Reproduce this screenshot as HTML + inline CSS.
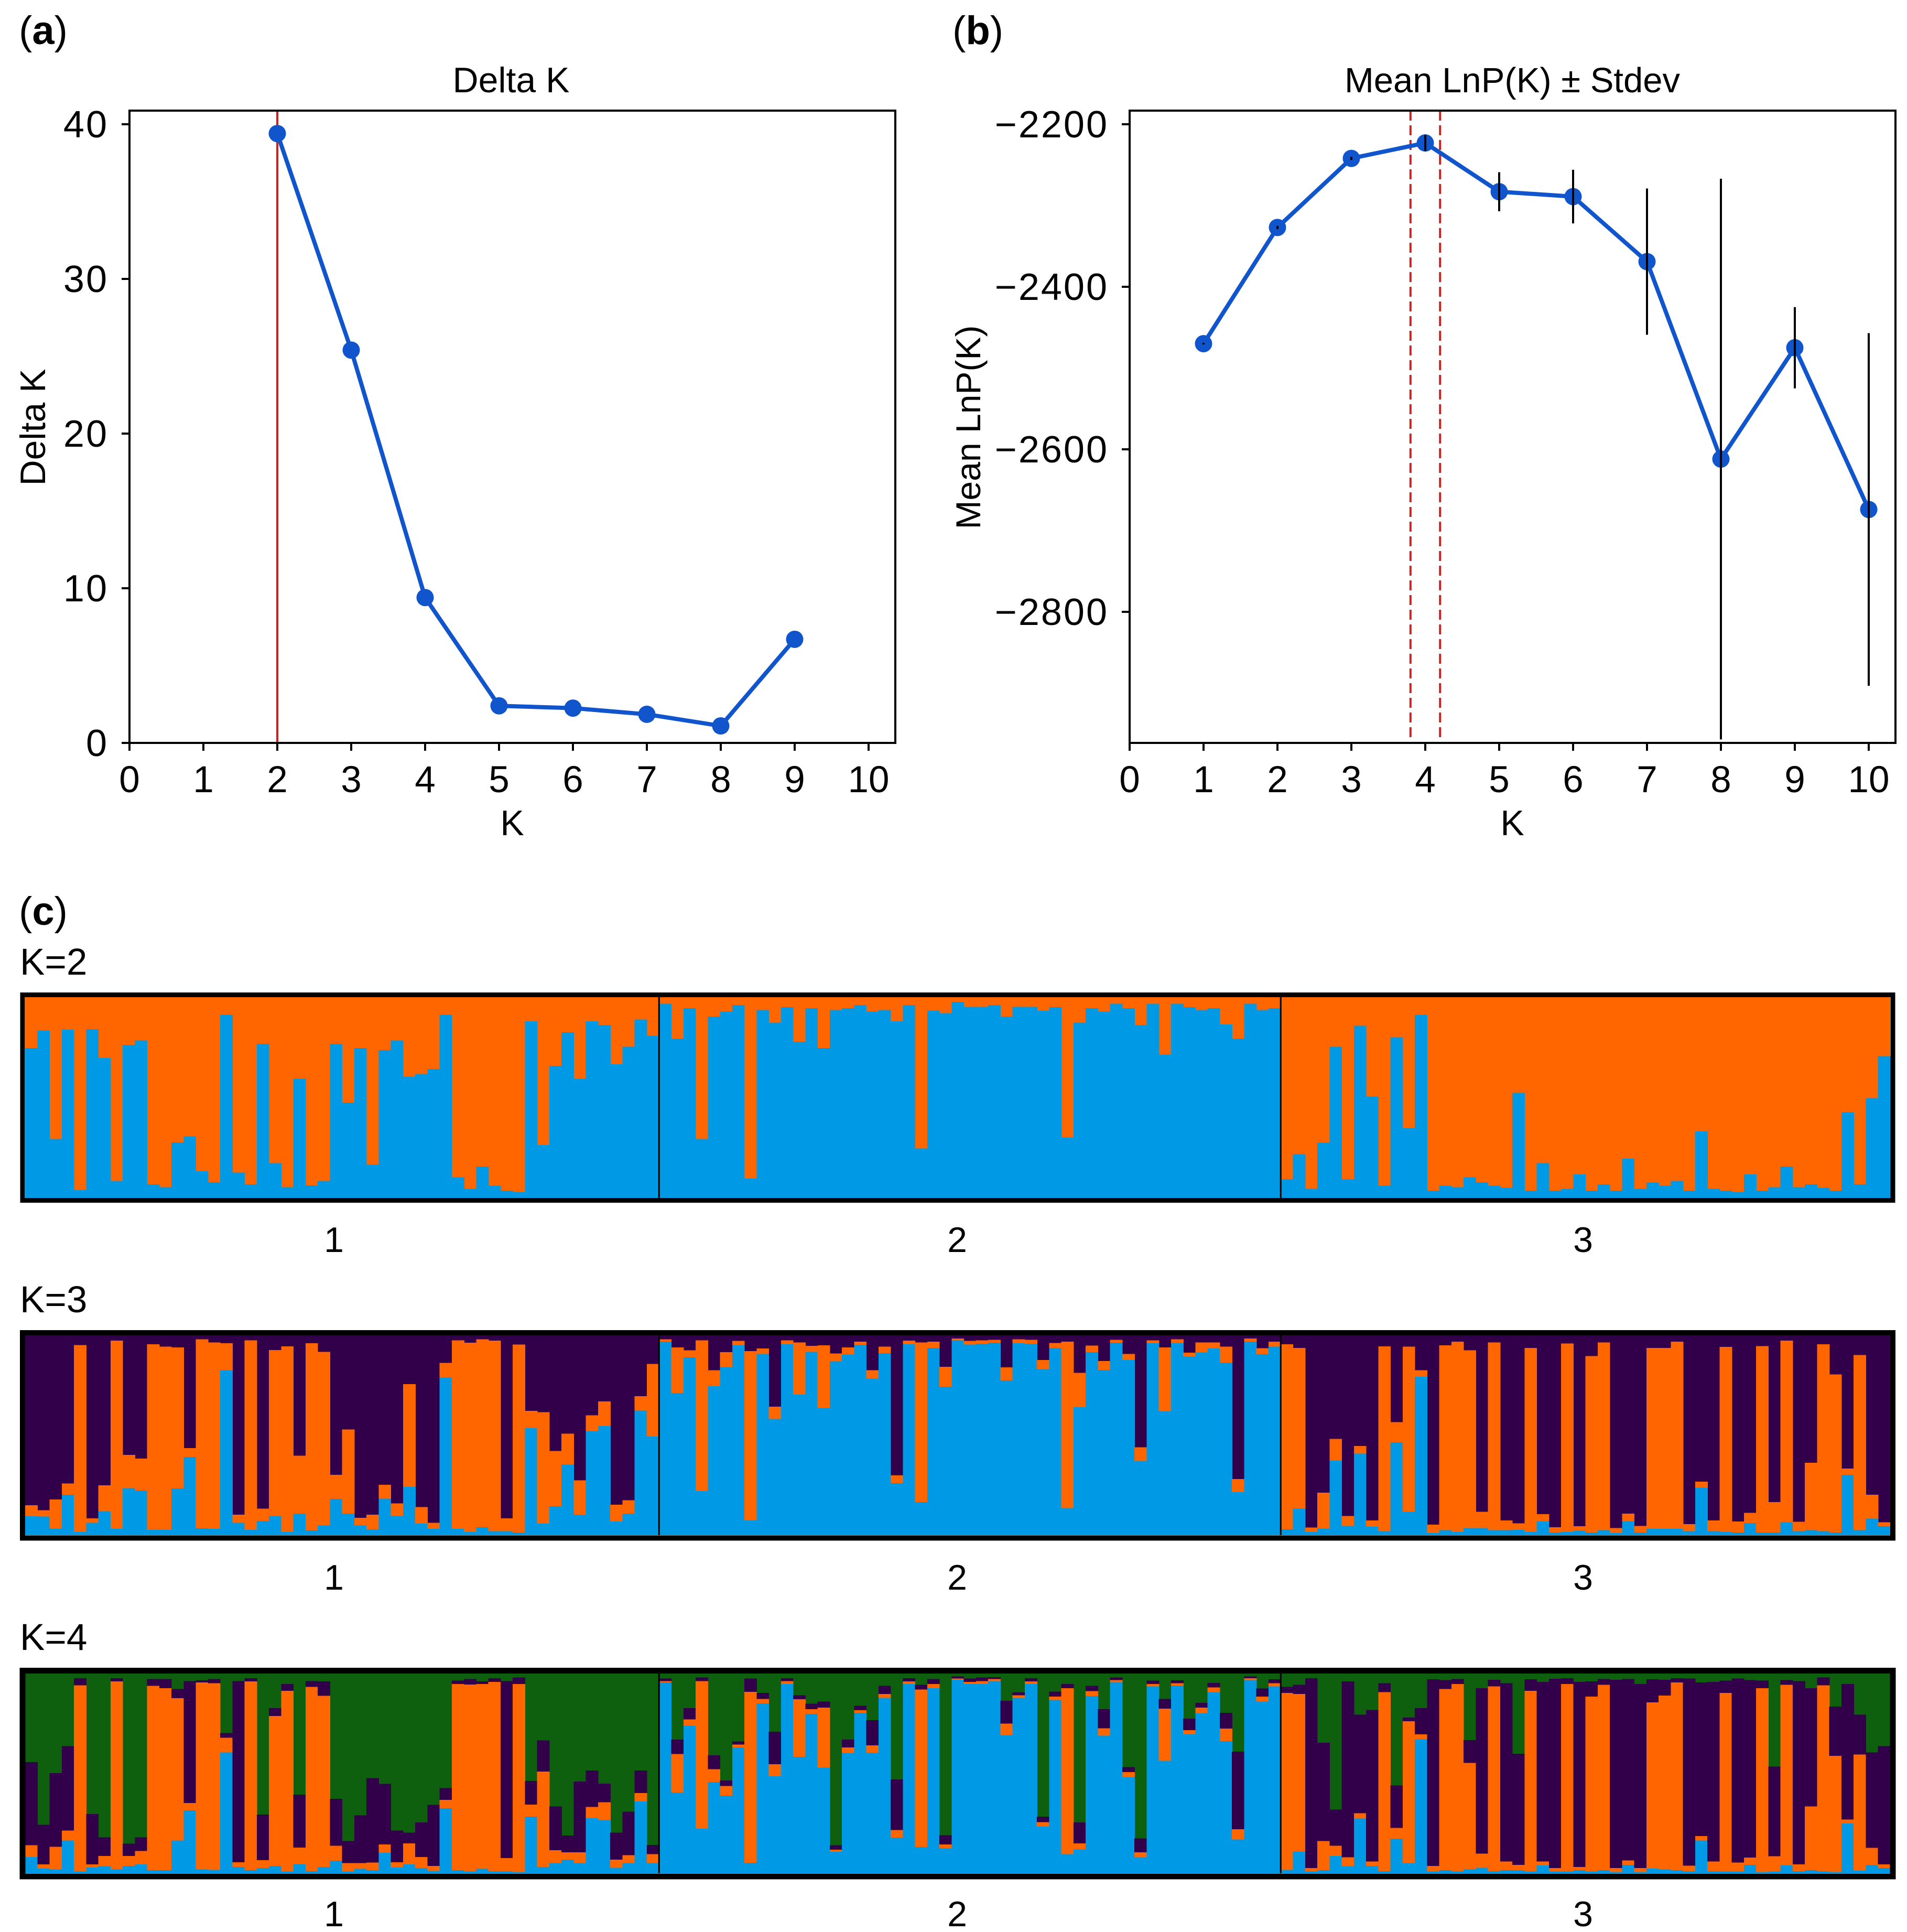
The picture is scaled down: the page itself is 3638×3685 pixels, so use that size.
<!DOCTYPE html>
<html lang="en">
<head>
<meta charset="utf-8">
<title>Delta K, Mean LnP(K) and STRUCTURE bar plots</title>
<style>
html,body{margin:0;padding:0;background:#fff;}
svg{display:block;font-family:"Liberation Sans",sans-serif;fill:#000;}
text{fill:#000;}
</style>
</head>
<body>
<svg id="fig" xmlns="http://www.w3.org/2000/svg" width="3638" height="3685" viewBox="0 0 3638 3685">
  <rect x="0" y="0" width="3638" height="3685" fill="#fff"/>
  <text x="36" y="84" font-size="76">(<tspan font-weight="bold">a</tspan>)</text>
  <text x="1817" y="84" font-size="76">(<tspan font-weight="bold">b</tspan>)</text>
  <text x="36" y="1764" font-size="76">(<tspan font-weight="bold">c</tspan>)</text>
  <text x="975" y="176" font-size="68" text-anchor="middle">Delta K</text>
  <text x="2885" y="176" font-size="67" text-anchor="middle">Mean LnP(K) ± Stdev</text>
  <text x="977" y="1593" font-size="68" text-anchor="middle">K</text>
  <text x="2885" y="1593" font-size="68" text-anchor="middle">K</text>
  <text transform="translate(86,815) rotate(-90)" font-size="68" text-anchor="middle">Delta K</text>
  <text transform="translate(1870,815) rotate(-90)" font-size="66" text-anchor="middle">Mean LnP(K)</text>
  <text x="38" y="1859" font-size="71">K=2</text>
  <text x="38" y="2503" font-size="71">K=3</text>
  <text x="38" y="3147" font-size="71">K=4</text>
  <g id="charts"></g>
</svg>
<script>
// Panel (a)
const deltaKCategories = [2,3,4,5,6,7,8,9];
const deltaKValues = [39.4,25.4,9.4,2.4,2.25,1.85,1.1,6.7];
const deltaKPeak = [2];
const deltaKXTicks = [0,1,2,3,4,5,6,7,8,9,10];
const deltaKYTicks = [0,10,20,30,40];
// Panel (b)
const lnpCategories = [1,2,3,4,5,6,7,8,9,10];
const lnpValues = [-2470,-2327,-2242,-2223,-2283,-2289,-2369,-2612,-2475,-2674];
const lnpStdev = [1,2,2,10,24,33,90,345,50,217];
const lnpMarkers = [3.8,4.2];
const lnpXTicks = [0,1,2,3,4,5,6,7,8,9,10];
const lnpYTicks = [-2200,-2400,-2600,-2800];
// Panel (c): cumulative membership, percent, individuals in plot order
const groupLabels = ['1','2','3'];
const groupSizes = [52,51,50];
const k2Blue = [74.7,83.4,29.4,83.8,3.9,84.1,69.7,8.5,76.2,78.4,6.8,5.4,27.7,30.7,13.3,7.8,91.2,12.6,6.8,76.7,17.4,5.4,59.4,6.3,8.5,76.7,47.5,74.7,16.6,73.6,78.4,60.4,61.7,64.2,91.2,10.3,4.6,15.7,6.1,3.7,3.0,88.0,26.4,65.8,82.5,59.4,88.0,86.1,66.6,75.3,88.9,80.8,
96.7,79.4,94.5,29.4,90.4,92.8,96.1,9.6,93.6,87.4,95.1,77.8,94.5,74.7,93.6,94.5,96.1,92.8,93.6,88.0,96.1,24.7,93.4,92.1,97.6,95.2,95.2,96.1,90.4,95.2,95.2,93.2,95.1,30.1,87.4,94.5,92.8,96.7,94.5,86.1,96.7,71.4,96.7,95.1,93.6,94.5,86.4,79.4,96.7,93.6,94.5,
9.3,21.8,4.6,27.6,75.3,9.3,85.8,50.5,6.1,80.0,34.8,91.2,3.7,6.1,5.4,10.3,7.8,6.1,5.1,52.3,3.7,17.4,3.7,4.6,11.8,3.7,6.8,3.7,19.6,4.6,7.7,6.1,8.5,3.7,33.1,4.6,3.7,3.0,11.8,3.7,5.4,15.7,5.4,6.8,5.1,3.7,42.7,6.8,49.8,70.6];
const k3Blue = [9.5,9.3,3.3,20.2,1.6,6.2,11.9,3.1,23.5,22.3,2.6,2.6,23.3,39.1,3.4,3.1,82.5,6.2,2.6,7.1,9.6,1.6,10.8,2.3,4.8,18.1,10.8,4.8,2.7,18.2,9.6,24.2,5.8,3.1,78.9,3.1,1.6,3.9,2.0,2.0,1.3,53.5,5.8,14.5,35.3,10.2,52.1,54.6,6.8,10.8,62.3,49.3,
96.9,71.1,89.0,22.0,74.6,84.1,95.2,7.5,90.7,58.1,95.6,70.3,91.7,63.6,87.0,90.4,95.3,78.4,91.1,26.0,95.6,16.6,93.7,74.3,97.5,95.4,95.8,96.3,77.4,96.1,95.8,83.1,93.7,13.5,64.1,91.6,82.7,96.3,87.6,37.1,96.1,62.1,96.2,89.4,91.5,93.5,86.3,21.5,96.9,90.6,94.4,
2.9,13.2,1.6,3.3,37.3,4.6,40.8,4.2,2.0,46.5,11.7,79.3,1.1,2.5,1.6,3.5,3.5,2.5,2.5,2.6,1.6,6.8,1.3,1.6,2.2,1.3,2.5,1.0,7.0,1.3,3.1,3.1,3.1,2.0,23.8,2.0,1.6,1.3,6.0,1.3,1.3,6.4,2.0,2.5,2.0,1.3,30.2,2.5,8.3,4.4];
const k3Orange = [14.9,12.5,17.8,25.9,95.1,8.4,25.0,97.4,40.1,38.3,95.5,94.3,94.0,43.6,98.0,96.4,96.1,10.2,97.5,13.3,92.7,94.5,39.7,96.0,91.7,30.2,52.9,8.6,10.3,25.2,15.9,75.6,14.1,6.2,86.2,97.5,96.3,98.0,97.4,8.4,95.4,62.2,61.6,42.1,50.8,27.4,60.0,66.9,15.2,17.4,69.5,85.7,
98.0,94.0,92.5,97.5,82.5,91.6,97.3,92.1,93.4,64.3,97.5,96.4,94.7,95.0,91.0,94.0,96.9,82.6,94.4,29.9,97.4,96.4,96.8,84.2,98.4,97.3,97.5,97.8,84.0,98.0,97.8,87.6,96.2,96.9,81.2,94.9,87.1,97.8,90.7,43.9,97.5,93.9,98.0,91.4,96.5,96.5,94.3,28.1,98.4,93.6,96.8,
95.5,93.7,3.8,21.3,48.2,9.6,44.6,7.3,94.5,56.5,94.4,82.5,5.3,95.0,96.8,92.5,11.7,96.4,7.4,5.9,93.7,10.5,3.9,95.9,4.5,89.6,96.5,3.5,10.8,4.6,93.7,93.7,96.9,5.5,26.8,7.3,94.2,6.8,11.2,94.6,16.5,97.4,6.7,36.2,95.5,80.5,33.3,90.1,20.2,6.4];
const k4Blue = [8.1,2.4,2.0,16.4,0.9,2.9,3.5,2.0,3.7,4.5,1.6,1.6,16.4,31.5,2.0,1.7,60.5,3.1,1.6,2.6,3.7,0.9,4.6,1.1,3.1,6.3,0.9,2.2,1.6,10.3,2.9,4.5,2.6,1.2,32.6,1.6,0.9,2.2,1.1,1.1,0.7,28.3,3.1,5.1,6.8,5.1,27.7,26.7,2.8,5.1,35.9,5.1,
95.5,40.4,73.9,22.3,45.7,38.8,63.0,5.2,85.1,48.6,94.7,58.3,79.8,52.9,10.7,60.2,80.3,60.4,87.8,17.9,94.8,13.1,92.7,12.5,96.8,94.7,94.8,96.2,69.1,87.8,94.8,23.4,86.8,9.6,12.0,88.7,68.9,95.7,48.1,8.0,93.6,56.3,94.0,69.7,80.2,90.7,66.1,16.9,96.7,86.0,93.6,
1.7,10.9,0.9,1.6,8.7,3.5,27.4,3.7,1.0,17.3,5.1,67.1,0.9,1.6,0.9,2.0,2.8,1.0,1.6,1.6,0.9,3.9,0.9,0.9,1.6,0.9,1.6,0.6,4.2,0.6,2.4,2.0,1.6,1.0,16.4,1.0,0.9,0.9,4.2,0.6,0.9,4.1,1.0,1.6,1.0,0.6,24.9,1.3,4.2,2.6];
const k4Orange = [14.0,4.4,13.3,21.4,94.1,4.5,8.6,96.1,8.7,11.2,93.8,92.7,87.7,35.2,95.6,95.2,67.8,5.5,96.1,6.6,78.7,91.3,12.9,93.3,88.8,13.8,5.1,5.1,5.4,14.4,5.5,14.9,8.1,3.7,36.7,94.8,94.5,94.8,95.8,7.6,94.8,34.4,50.9,11.6,10.5,10.5,33.2,35.6,6.8,9.0,40.2,9.6,
96.2,59.7,77.0,96.2,52.1,43.7,64.5,90.8,87.3,54.6,96.2,87.2,82.1,82.9,11.8,63.0,81.6,64.0,89.8,21.6,96.0,92.0,94.8,14.5,97.5,95.8,96.2,97.2,74.9,89.1,96.1,25.6,88.5,92.7,15.0,91.2,72.6,96.7,50.6,10.5,94.8,82.4,95.2,71.6,82.9,93.1,72.4,22.1,97.7,88.4,95.1,
90.3,89.7,2.6,16.2,13.8,8.0,30.0,5.9,90.7,22.7,76.1,69.6,3.7,92.3,94.8,55.3,9.9,93.6,5.9,4.2,91.4,5.9,2.6,94.7,3.1,88.4,94.3,2.6,6.4,2.6,85.5,89.0,95.6,3.8,18.6,5.9,90.3,5.4,7.9,92.7,8.5,94.3,4.5,33.4,94.1,58.8,26.9,59.5,12.7,4.5];
const k4Purple = [55.6,24.3,50.1,63.7,97.7,29.7,18.0,97.6,14.8,18.0,97.2,97.2,92.3,96.2,96.6,97.2,70.2,96.2,97.7,29.4,82.7,94.8,39.4,96.2,96.1,37.3,16.2,29.0,47.7,44.7,21.4,20.4,25.4,34.3,42.6,96.5,97.2,96.1,97.7,96.2,98.0,46.2,66.5,33.4,18.9,45.9,51.4,44.9,20.4,30.9,51.4,14.2,
97.5,66.9,82.7,98.0,59.1,46.5,66.0,97.5,90.3,70.9,97.6,89.1,84.9,85.9,14.0,66.9,83.8,76.6,93.8,47.0,97.7,94.3,97.2,19.0,98.6,97.5,98.0,98.2,86.4,90.6,97.7,28.3,91.0,94.8,25.5,93.8,82.2,98.0,53.1,17.5,96.5,87.3,96.6,77.4,85.3,95.3,80.3,60.9,98.6,92.5,97.1,
93.3,94.3,97.7,65.4,31.9,96.1,79.4,81.8,95.1,44.0,77.9,82.7,97.1,96.7,97.2,66.7,92.7,96.9,95.1,59.8,97.1,95.8,97.4,97.7,95.8,96.1,97.2,96.9,97.2,94.8,97.1,96.8,97.7,97.5,95.5,95.8,96.4,97.5,96.7,96.4,53.4,96.7,96.2,92.6,98.0,83.4,94.7,79.4,60.5,63.7];

const NS = 'http://www.w3.org/2000/svg';
const root = document.getElementById('charts');
const COL = {blue:'#0099e6', orange:'#ff6600', purple:'#32004a', green:'#0e600e', line:'#1155cc', red:'#cc2222'};

function mk(tag, attrs, parent) {
  const el = document.createElementNS(NS, tag);
  for (const k in attrs) el.setAttribute(k, attrs[k]);
  (parent || root).appendChild(el);
  return el;
}

const boxA = {l:247, r:1708, t:211, b:1417};
const boxB = {l:2155, r:3616, t:211, b:1417};
function xA(k) { return boxA.l + 141 * k; }
function yA(v) { return 1417 - 29.5 * v; }
function xB(k) { return boxB.l + 141 * k; }
function yB(v) { return 237 + (-2200 - v) * 1.55; }
function fmt(v) { return String(v).replace('-', '\u2212'); }

function drawAxes(prefix, box, xFn, yFn, xTicks, yTicks) {
  for (const t of xTicks) {
    const tick = mk('line', {x1:xFn(t), x2:xFn(t), y1:box.b, y2:box.b + 15, stroke:'#000', 'stroke-width':4});
    
    
    const lab = mk('text', {x:xFn(t), y:box.b + 94, 'font-size':71, 'text-anchor':'middle'});
    lab.textContent = fmt(t);
    
    
  }
  for (const t of yTicks) {
    const tick = mk('line', {x1:box.l - 15, x2:box.l, y1:yFn(t), y2:yFn(t), stroke:'#000', 'stroke-width':4});
    
    
    const lab = mk('text', {x:box.l - 40, y:yFn(t) + 25, 'font-size':72, 'letter-spacing':3, 'text-anchor':'end'});
    lab.textContent = fmt(t);
    
    
  }
}
function drawFrame(prefix, box) {
  const f = mk('rect', {x:box.l, y:box.t, width:box.r - box.l, height:box.b - box.t, fill:'none', stroke:'#000', 'stroke-width':4});
  
  
}
function drawSeries(prefix, cats, vals, xFn, yFn) {
  const pts = cats.map((c, i) => xFn(c) + ',' + yFn(vals[i])).join(' ');
  const line = mk('polyline', {points:pts, fill:'none', stroke:COL.line, 'stroke-width':8, 'stroke-linejoin':'round'});
  
  
  cats.forEach((c, i) => {
    const dot = mk('circle', {cx:xFn(c), cy:yFn(vals[i]), r:16.5, fill:COL.line});
    
    
  });
}

// Panel (a)
for (const k of deltaKPeak) {
  const peak = mk('line', {x1:xA(k), x2:xA(k), y1:boxA.t, y2:boxA.b, stroke:COL.red, 'stroke-width':4});
  
  
}
drawSeries('delta-k', deltaKCategories, deltaKValues, xA, yA);
drawFrame('delta-k', boxA);
drawAxes('delta-k', boxA, xA, yA, deltaKXTicks, deltaKYTicks);

// Panel (b)
for (const k of lnpMarkers) {
  const m = mk('line', {x1:xB(k), x2:xB(k), y1:boxB.t, y2:boxB.b, stroke:COL.red, 'stroke-width':4, 'stroke-dasharray':'19 9'});
  
  
}
drawSeries('mean-lnp', lnpCategories, lnpValues, xB, yB);
lnpCategories.forEach((c, i) => {
  const e = mk('line', {x1:xB(c), x2:xB(c), y1:yB(lnpValues[i] + lnpStdev[i]), y2:yB(lnpValues[i] - lnpStdev[i]), stroke:'#000', 'stroke-width':4});
  
  
});
drawFrame('mean-lnp', boxB);
drawAxes('mean-lnp', boxB, xB, yB, lnpXTicks, lnpYTicks);

// Panel (c)
const total = groupSizes.reduce((a, b) => a + b, 0);
const inL = 48, inR = 3606;
function xBar(i) { return inL + (inR - inL) * i / total; }

function drawStructure(k, top, bottom, series, colors, labelY, outerTop, outerBottom) {
  const yP = p => bottom - (bottom - top) * p / 100;
  const g = mk('g', {'shape-rendering':'crispEdges'});
  
  
  const base = mk('rect', {x:inL, y:top, width:inR - inL, height:bottom - top, fill:colors[colors.length - 1]}, g);
  
  
  for (let i = 0; i < total; i++) {
    for (let s = series.length - 1; s >= 0; s--) {
      const y = yP(series[s][i]);
      const bar = mk('rect', {x:xBar(i), y:y, width:xBar(i + 1) - xBar(i) + 0.6, height:bottom - y, fill:colors[s]}, g);
      
      
    }
  }
  let n = 0;
  groupSizes.forEach((size, gi) => {
    n += size;
    if (gi < groupSizes.length - 1) {
      const d = mk('line', {x1:xBar(n), x2:xBar(n), y1:top, y2:bottom, stroke:'#000', 'stroke-width':3});
      
      
    }
  });
  const frame = mk('rect', {x:43, y:(outerTop + top) / 2, width:3568, height:(bottom + outerBottom) / 2 - (outerTop + top) / 2, fill:'none', stroke:'#000', 'stroke-width':top - outerTop});
  
  
  const labX = [637, 1826, 3020];
  groupLabels.forEach((t, gi) => {
    const lab = mk('text', {x:labX[gi], y:labelY, 'font-size':68, 'text-anchor':'middle'});
    lab.textContent = t;
    
    
  });
}
drawStructure(2, 1902, 2285, [k2Blue], [COL.blue, COL.orange], 2388, 1893, 2294);
drawStructure(3, 2547, 2928, [k3Blue, k3Orange], [COL.blue, COL.orange, COL.purple], 3032, 2537, 2939);
drawStructure(4, 3192, 3573, [k4Blue, k4Orange, k4Purple], [COL.blue, COL.orange, COL.purple, COL.green], 3674, 3181, 3585);
</script>
</body>
</html>
